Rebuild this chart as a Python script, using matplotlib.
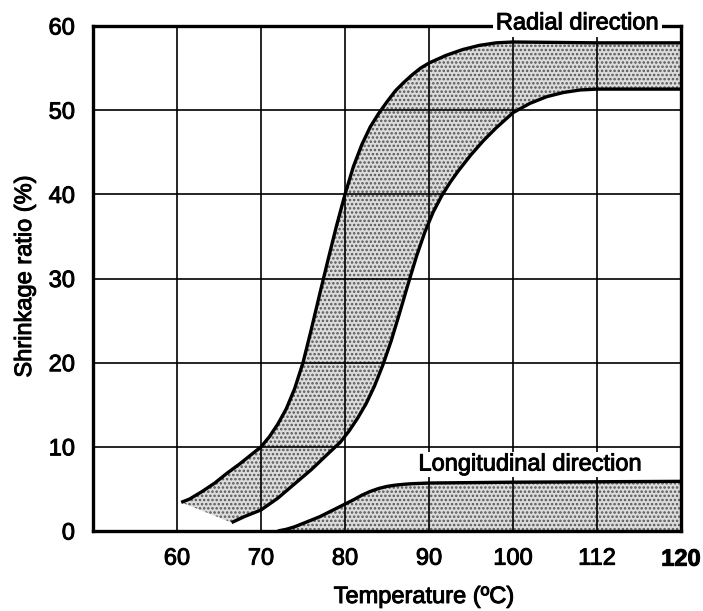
import matplotlib.pyplot as plt
import matplotlib.patheffects as pe

plt.rcParams['font.family'] = ['Liberation Sans', 'DejaVu Sans']
plt.rcParams['hatch.linewidth'] = 1.2

# tick positions (the axis is evenly spaced, last two labels are 112 and 120)
x_ticks = [60, 70, 80, 90, 100, 110, 120]
x_labels = ["60", "70", "80", "90", "100", "112", "120"]
y_ticks = [0, 10, 20, 30, 40, 50, 60]

# radial direction band - upper/left boundary
radial_upper_x = [60.5, 61.5, 63.0, 64.5, 66.0, 67.5, 69.0, 70.0, 71.0, 72.0, 73.0,
                  74.0, 75.0, 76.0, 77.0, 78.0, 79.0, 80.0, 81.0, 82.0, 83.0, 84.0,
                  85.0, 86.0, 87.0, 88.0, 89.0, 90.0, 92.0, 94.0, 96.0, 98.0, 100.0,
                  110.0, 120.0]
radial_upper_y = [3.4, 3.8, 4.7, 5.7, 6.9, 8.0, 9.2, 10.0, 11.2, 12.7, 14.5,
                  16.9, 20.0, 24.0, 28.2, 32.3, 36.3, 40.0, 43.3, 45.9, 48.0, 49.6,
                  51.0, 52.3, 53.3, 54.2, 55.0, 55.6, 56.5, 57.2, 57.7, 58.0, 58.1,
                  58.0, 58.0]

# radial direction band - lower/right boundary
radial_lower_x = [66.5, 68.0, 70.0, 72.0, 74.0, 76.0, 78.0, 79.4, 80.5, 81.5, 82.5,
                  83.5, 84.5, 85.5, 86.5, 87.5, 88.5, 89.5, 90.5, 91.5, 92.5, 93.5,
                  95.0, 96.5, 98.0, 100.0, 102.0, 104.0, 106.0, 108.0, 110.0, 120.0]
radial_lower_y = [1.0, 1.7, 2.5, 3.9, 5.6, 7.3, 9.2, 10.5, 11.9, 13.4, 15.1,
                  17.2, 19.7, 22.6, 25.9, 29.3, 32.6, 35.5, 37.9, 39.8, 41.4, 42.8,
                  44.7, 46.4, 47.9, 49.7, 50.8, 51.6, 52.1, 52.4, 52.5, 52.5]

# longitudinal direction
long_x = [72.0, 73.0, 74.0, 75.0, 76.0, 77.0, 78.0, 79.0, 80.0, 81.0, 82.0, 83.0,
          84.0, 85.0, 86.0, 87.0, 88.0, 90.0, 100.0, 120.0]
long_y = [0.0, 0.2, 0.5, 0.9, 1.3, 1.7, 2.2, 2.7, 3.2, 3.7, 4.25, 4.7,
          5.05, 5.3, 5.45, 5.55, 5.62, 5.7, 5.8, 5.9]

fig = plt.figure(figsize=(7.03, 6.11), dpi=100)
ax = fig.add_axes([93 / 703, 1 - 531 / 611, 588 / 703, 505 / 611])

# shaded band between the two radial curves
band_x = radial_upper_x + radial_lower_x[::-1]
band_y = radial_upper_y + radial_lower_y[::-1]
ax.fill(band_x, band_y, facecolor='#dcdcdc', edgecolor='#555555', hatch='....',
        linewidth=0, zorder=1)
ax.fill_between(long_x, 0, long_y, facecolor='#dcdcdc', edgecolor='#555555',
                hatch='....', linewidth=0, zorder=1)

# grid
for xv in x_ticks:
    ax.axvline(xv, color='black', lw=1.2, zorder=2)
for yv in y_ticks:
    ax.axhline(yv, color='black', lw=1.2, zorder=2)

for xs, ys in [(radial_upper_x, radial_upper_y), (radial_lower_x, radial_lower_y),
               (long_x, long_y)]:
    ax.plot(xs, ys, color='black', lw=2.4, zorder=3, solid_capstyle='butt',
            solid_joinstyle='round')

# slightly heavier strokes, like the printed original
thick = [pe.withStroke(linewidth=0.7, foreground='black')]

ax.set_xlim(50, 120)
ax.set_ylim(0, 60)
ax.set_xticks(x_ticks)
# last label is printed bold in the original, drawn separately below
ax.set_xticklabels(x_labels[:-1] + [""], fontsize=17, path_effects=thick)
ax.text(x_ticks[-1], -0.033, x_labels[-1], fontsize=17, fontweight='bold',
        ha='center', va='top', transform=ax.get_xaxis_transform(), clip_on=False,
        path_effects=thick)
ax.set_yticks(y_ticks)
ax.set_yticklabels([str(v) for v in y_ticks], fontsize=17, path_effects=thick)
ax.tick_params(axis='both', length=0)
ax.tick_params(axis='x', pad=12)
ax.tick_params(axis='y', pad=13)
for s in ax.spines.values():
    s.set_linewidth(2.4)

ax.text(107.7, 59.6, "Radial direction", fontsize=17, ha='center', va='baseline',
        zorder=5, clip_on=False, path_effects=thick,
        bbox=dict(facecolor='white', edgecolor='none', pad=2))
ax.text(102.1, 7.9, "Longitudinal direction", fontsize=17, ha='center',
        va='center', zorder=5, path_effects=thick,
        bbox=dict(facecolor='white', edgecolor='none', pad=1))

fig.text(424 / 703, 1 - 597 / 611, "Temperature (ºC)", fontsize=17,
         ha='center', va='center', path_effects=thick)
fig.text(25 / 703, 1 - 276 / 611, "Shrinkage ratio (%)", fontsize=17,
         ha='center', va='center', rotation=90, path_effects=thick)

fig.savefig("out.png", dpi=100)
